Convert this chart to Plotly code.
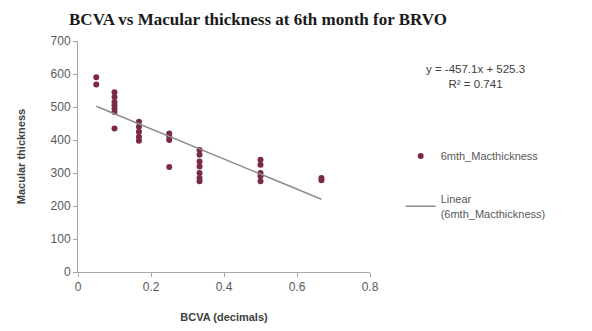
import plotly.graph_objects as go

# Data
bcva = [0.05, 0.05,
        0.1, 0.1, 0.1, 0.1, 0.1, 0.1, 0.1,
        0.167, 0.167, 0.167, 0.167, 0.167,
        0.25, 0.25, 0.25, 0.25,
        0.333, 0.333, 0.333, 0.333, 0.333, 0.333, 0.333,
        0.5, 0.5, 0.5, 0.5, 0.5,
        0.667, 0.667]
thickness = [590, 568,
             545, 530, 515, 505, 495, 485, 435,
             455, 440, 425, 410, 398,
             420, 410, 400, 318,
             370, 355, 335, 320, 300, 285, 275,
             340, 325, 300, 290, 275,
             285, 278]
slope = -457.1
intercept = 525.3
r_squared = 0.741
x_ticks = [0, 0.2, 0.4, 0.6, 0.8]
y_ticks = [0, 100, 200, 300, 400, 500, 600, 700]

x_fit = [min(bcva), max(bcva)]
y_fit = [slope * v + intercept for v in x_fit]

grey = "#595959"
fig = go.Figure()
fig.add_trace(go.Scatter(
    x=bcva, y=thickness, mode="markers", name="6mth_Macthickness",
    marker=dict(color="#7a2a48", size=6), legendgroup="a"))
fig.add_trace(go.Scatter(
    x=x_fit, y=y_fit, mode="lines", name="Linear<br>(6mth_Macthickness)",
    line=dict(color="#8c8c8c", width=1.5), legendgroup="b"))

fig.add_annotation(
    x=1.36, y=0.915, xref="paper", yref="paper", showarrow=False,
    text=f"y = {slope}x + {intercept}<br>R² = {r_squared}",
    font=dict(family="Liberation Sans", size=11.5, color="#404040"),
    xanchor="center", yanchor="top")

fig.update_layout(
    width=584, height=323,
    margin=dict(l=70, r=222, t=33, b=59),
    paper_bgcolor="white", plot_bgcolor="white",
    title=dict(text="<b>BCVA vs Macular thickness at 6th month for BRVO</b>",
               x=0.428, xanchor="center", y=0.985, yanchor="top",
               font=dict(family="Liberation Serif", size=17, color="#1a1a1a")),
    showlegend=True,
    legend=dict(x=1.105, y=0.565, xanchor="left", yanchor="top",
                traceorder="grouped", tracegroupgap=25,
                font=dict(family="Liberation Sans", size=11, color=grey),
                bgcolor="rgba(0,0,0,0)", itemwidth=30),
    xaxis=dict(range=[0, 0.8], tickvals=x_ticks,
               ticktext=[f"{v:g}" for v in x_ticks], automargin=False,
               showgrid=False, zeroline=False, showline=True,
               linecolor="#a6a6a6", linewidth=1, ticks="outside",
               ticklen=4, tickcolor="#a6a6a6",
               tickfont=dict(family="Liberation Sans", size=12, color=grey),
               title=dict(text="<b>BCVA (decimals)</b>", standoff=19,
                          font=dict(family="Liberation Sans", size=11, color="#404040"))),
    yaxis=dict(range=[0, 700], tickvals=y_ticks, automargin=False,
               showgrid=False, zeroline=False, showline=True,
               linecolor="#a6a6a6", linewidth=1, ticks="outside",
               ticklen=4, tickcolor="#a6a6a6",
               tickfont=dict(family="Liberation Sans", size=12, color=grey),
               title=dict(text="<b>Macular thickness</b>", standoff=22,
                          font=dict(family="Liberation Sans", size=11, color="#404040"))),
)

fig.write_html("out.html")
